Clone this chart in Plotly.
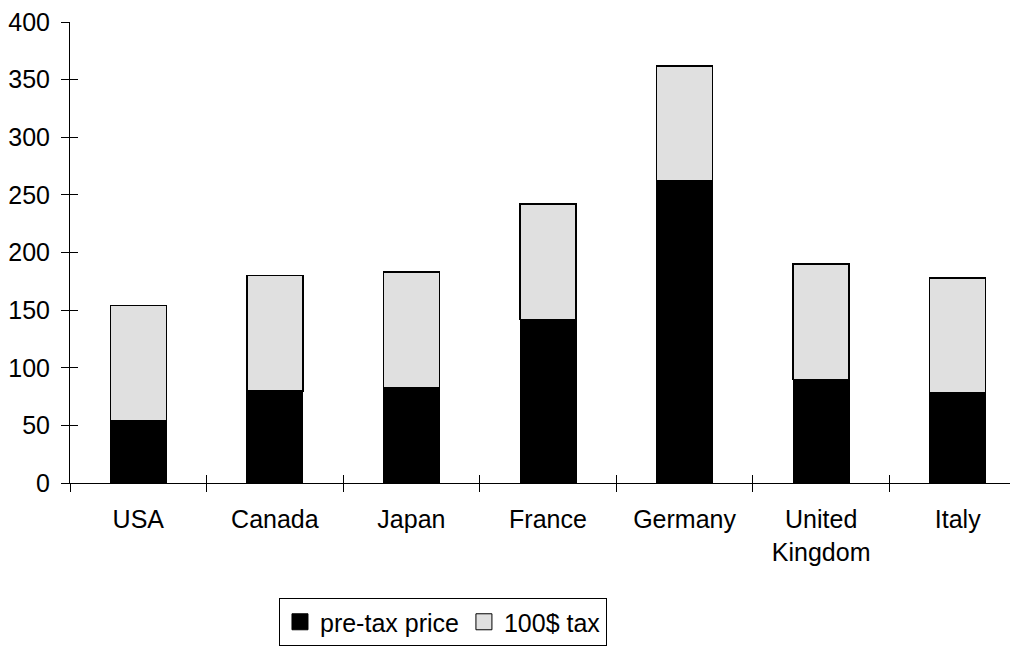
import plotly.graph_objects as go

countries = ["USA", "Canada", "Japan", "France", "Germany", "United<br>Kingdom", "Italy"]
pre_tax = [54, 80, 83, 142, 262, 90, 78]
tax = [100, 100, 100, 100, 100, 100, 100]
y_ticks = [0, 50, 100, 150, 200, 250, 300, 350, 400]
boundary_ticks = [-0.5, 0.5, 1.5, 2.5, 3.5, 4.5, 5.5, 6.5]

FONT = "Liberation Sans, Arial, sans-serif"

fig = go.Figure()
fig.add_trace(go.Bar(x=countries, y=pre_tax, name="pre-tax price",
                     marker=dict(color="black", line=dict(color="black", width=1)),
                     width=0.41, showlegend=False))
fig.add_trace(go.Bar(x=countries, y=tax, name="100$ tax",
                     marker=dict(color="#e0e0e0", line=dict(color="black", width=1.5)),
                     width=0.41, showlegend=False))
# legend entries (square swatches)
fig.add_trace(go.Scatter(x=[None], y=[None], mode="markers", name="pre-tax price",
                         marker=dict(symbol="square", size=16, color="black",
                                     line=dict(color="black", width=1))))
fig.add_trace(go.Scatter(x=[None], y=[None], mode="markers", name="100$ tax",
                         marker=dict(symbol="square", size=16, color="#e0e0e0",
                                     line=dict(color="black", width=1))))
# helper trace so the overlay axes (inner half of the tick marks) exist
fig.add_trace(go.Scatter(x=[0], y=[0], xaxis="x2", yaxis="y2", mode="markers",
                         marker=dict(opacity=0), showlegend=False, hoverinfo="skip"))

xr = [-0.5, 6.5]
fig.update_layout(
    barmode="stack",
    width=1018, height=646,
    margin=dict(l=62, r=0, t=14, b=171, autoexpand=False),
    paper_bgcolor="white", plot_bgcolor="white",
    font=dict(family=FONT, size=25, color="black"),
    xaxis=dict(type="category", range=xr, showline=True, linecolor="black", linewidth=1,
               ticks="outside", ticklen=8, tickcolor="black", tickson="boundaries",
               showgrid=False, zeroline=False, tickfont=dict(size=25),
               ticklabelstandoff=14, automargin=False, ticklabeloverflow="allow"),
    yaxis=dict(range=[0, 400], tickvals=y_ticks, showline=True, linecolor="black",
               linewidth=1, ticks="outside", ticklen=8, tickcolor="black",
               showgrid=False, zeroline=False, tickfont=dict(size=25),
               ticklabelstandoff=6, automargin=False, ticklabeloverflow="allow"),
    xaxis2=dict(range=xr, overlaying="x", anchor="y2", side="bottom", ticks="inside",
                tickvals=boundary_ticks, ticklen=8, tickcolor="black",
                showticklabels=False, showline=False, showgrid=False, zeroline=False,
                automargin=False),
    yaxis2=dict(range=[0, 400], tickvals=y_ticks, overlaying="y", anchor="x2", side="left",
                ticks="inside", ticklen=8, tickcolor="black", showticklabels=False,
                showline=False, showgrid=False, zeroline=False, automargin=False),
    legend=dict(orientation="h", x=0.2186, xanchor="left", y=-0.2495, yanchor="top",
                bordercolor="black", borderwidth=1, font=dict(size=25),
                itemwidth=30, traceorder="normal"),
    bargap=0.59,
)
fig.write_html("out.html")
